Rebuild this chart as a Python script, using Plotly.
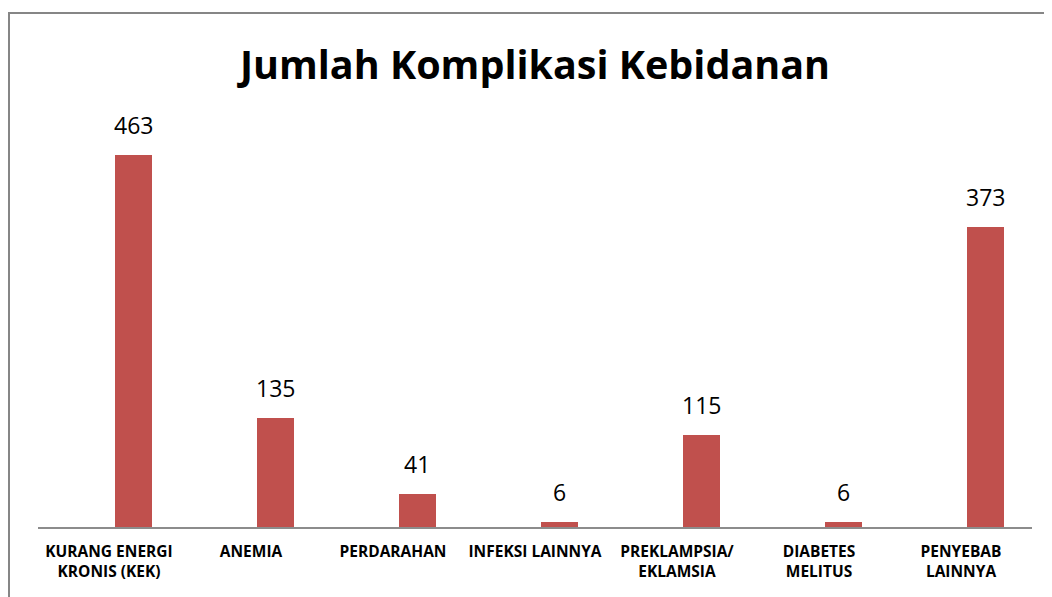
import plotly.graph_objects as go

categories = ["KURANG ENERGI<br>KRONIS (KEK)", "ANEMIA", "PERDARAHAN", "INFEKSI LAINNYA",
              "PREKLAMPSIA/<br>EKLAMSIA", "DIABETES<br>MELITUS", "PENYEBAB<br>LAINNYA"]
values = [463, 135, 41, 6, 115, 6, 373]
positions = list(range(len(categories)))

BAR_W = 0.26
BAR_OFF = 0.04

fig = go.Figure()
fig.add_trace(go.Bar(
    x=positions, y=values,
    width=BAR_W, offset=BAR_OFF,
    marker=dict(color="#C0504D", line=dict(width=0)),
    cliponaxis=False,
))
for p, v in zip(positions, values):
    fig.add_annotation(x=p + BAR_OFF + BAR_W / 2, y=v, text=str(v), showarrow=False,
                       yanchor="bottom", yshift=12,
                       font=dict(family="Open Sans", size=23, color="#000000"))

fig.update_layout(
    width=1044, height=589,
    margin=dict(l=30, r=20, t=117, b=70),
    paper_bgcolor="white", plot_bgcolor="white",
    showlegend=False,
    bargap=0,
    title=dict(text="<b>Jumlah Komplikasi Kebidanan</b>", x=527 / 1044, xref="container",
               xanchor="center", y=1 - 57 / 589, yanchor="middle",
               font=dict(family="Open Sans", size=39.5, color="#000000")),
    xaxis=dict(range=[-0.5, 6.5], tickmode="array", tickvals=positions, ticktext=categories,
               showline=True, linecolor="#8C8C8C", linewidth=2, ticks="",
               showgrid=False, zeroline=False, ticklabelstandoff=9,
               tickfont=dict(family="Open Sans", size=15.5, color="#000000", weight="bold")),
    yaxis=dict(range=[0, 500], visible=False, showgrid=False, zeroline=False),
    shapes=[dict(type="rect", xref="paper", yref="paper",
                 x0=(1 - 30) / 994, x1=1.2, y0=-0.5, y1=(519 - 5) / 402,
                 line=dict(color="#868686", width=2), fillcolor="rgba(0,0,0,0)", layer="below")],
)

fig.write_html("out.html")
